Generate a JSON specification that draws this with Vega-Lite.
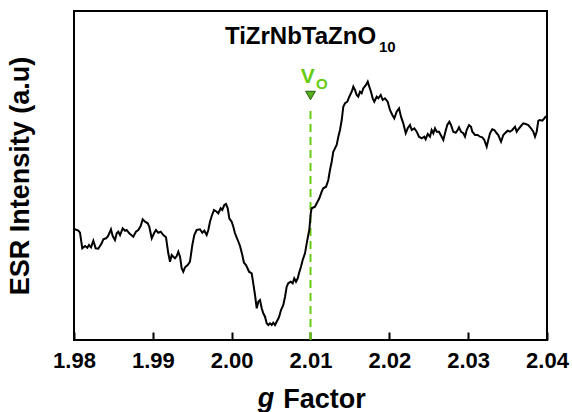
{
  "$schema": "https://vega.github.io/schema/vega-lite/v6.json",
  "autosize": {"type": "none"},
  "padding": {"left": 74, "top": 11, "right": 25, "bottom": 72},
  "width": 473,
  "height": 329,
  "background": "white",
  "config": {
    "font": "Liberation Sans",
    "view": {"stroke": "black", "strokeWidth": 2}
  },
  "datasets": {
    "esr": [
      {"g": 1.98, "I": 111.7},
      {"g": 1.98013, "I": 110.7},
      {"g": 1.98055, "I": 109.3},
      {"g": 1.98076, "I": 107.3},
      {"g": 1.98105, "I": 91.7},
      {"g": 1.9814, "I": 94},
      {"g": 1.98169, "I": 92.3},
      {"g": 1.9819, "I": 95},
      {"g": 1.98216, "I": 92.7},
      {"g": 1.98245, "I": 99.3},
      {"g": 1.98275, "I": 91.7},
      {"g": 1.98308, "I": 91.3},
      {"g": 1.98351, "I": 96.7},
      {"g": 1.98372, "I": 100.7},
      {"g": 1.98406, "I": 101.7},
      {"g": 1.98427, "I": 103.3},
      {"g": 1.98448, "I": 106.7},
      {"g": 1.98469, "I": 110.7},
      {"g": 1.98491, "I": 104},
      {"g": 1.9852, "I": 100},
      {"g": 1.98542, "I": 106.7},
      {"g": 1.98562, "I": 108.3},
      {"g": 1.98584, "I": 105},
      {"g": 1.98618, "I": 111.7},
      {"g": 1.98647, "I": 109.3},
      {"g": 1.98668, "I": 110},
      {"g": 1.98701, "I": 106.7},
      {"g": 1.98752, "I": 103.3},
      {"g": 1.98786, "I": 108.3},
      {"g": 1.98816, "I": 110},
      {"g": 1.98846, "I": 114},
      {"g": 1.98871, "I": 120.7},
      {"g": 1.98901, "I": 118.3},
      {"g": 1.98935, "I": 116.7},
      {"g": 1.98955, "I": 113.3},
      {"g": 1.98986, "I": 101.7},
      {"g": 1.99015, "I": 106.7},
      {"g": 1.9904, "I": 110},
      {"g": 1.99069, "I": 107.3},
      {"g": 1.991, "I": 108.3},
      {"g": 1.99133, "I": 105},
      {"g": 1.99167, "I": 102.7},
      {"g": 1.99196, "I": 86.7},
      {"g": 1.99218, "I": 78.3},
      {"g": 1.99239, "I": 85},
      {"g": 1.9926, "I": 83.3},
      {"g": 1.99281, "I": 81.7},
      {"g": 1.99303, "I": 84},
      {"g": 1.99323, "I": 88.3},
      {"g": 1.99345, "I": 83.3},
      {"g": 1.99366, "I": 71.7},
      {"g": 1.99386, "I": 68.3},
      {"g": 1.99408, "I": 72.7},
      {"g": 1.99442, "I": 75},
      {"g": 1.99471, "I": 78.3},
      {"g": 1.99501, "I": 95},
      {"g": 1.99526, "I": 105},
      {"g": 1.99556, "I": 110},
      {"g": 1.99598, "I": 110.7},
      {"g": 1.99627, "I": 107.3},
      {"g": 1.99653, "I": 109.3},
      {"g": 1.99683, "I": 105},
      {"g": 1.99704, "I": 110},
      {"g": 1.99725, "I": 118.3},
      {"g": 1.99747, "I": 124},
      {"g": 1.99776, "I": 130},
      {"g": 1.9981, "I": 128.3},
      {"g": 1.9983, "I": 126.7},
      {"g": 1.99861, "I": 131.7},
      {"g": 1.99881, "I": 130},
      {"g": 1.99907, "I": 135},
      {"g": 1.99928, "I": 136},
      {"g": 1.9995, "I": 131.7},
      {"g": 1.9997, "I": 121.7},
      {"g": 2.0, "I": 118.3},
      {"g": 2.00021, "I": 113.3},
      {"g": 2.00042, "I": 106.7},
      {"g": 2.00077, "I": 100},
      {"g": 2.00106, "I": 94},
      {"g": 2.00135, "I": 85},
      {"g": 2.00156, "I": 77.3},
      {"g": 2.00182, "I": 75},
      {"g": 2.00211, "I": 70},
      {"g": 2.0022, "I": 68.3},
      {"g": 2.00254, "I": 66.7},
      {"g": 2.00274, "I": 56.7},
      {"g": 2.00296, "I": 45},
      {"g": 2.00318, "I": 31.7},
      {"g": 2.00338, "I": 38.3},
      {"g": 2.00359, "I": 40},
      {"g": 2.00381, "I": 31.7},
      {"g": 2.00401, "I": 26.7},
      {"g": 2.00423, "I": 23.3},
      {"g": 2.00444, "I": 16.7},
      {"g": 2.00465, "I": 15},
      {"g": 2.00486, "I": 16.7},
      {"g": 2.00508, "I": 15},
      {"g": 2.00528, "I": 17.3},
      {"g": 2.0055, "I": 15},
      {"g": 2.00571, "I": 18.3},
      {"g": 2.006, "I": 22.7},
      {"g": 2.00626, "I": 30},
      {"g": 2.00655, "I": 35},
      {"g": 2.00677, "I": 43.3},
      {"g": 2.00698, "I": 53.3},
      {"g": 2.00718, "I": 56.7},
      {"g": 2.00749, "I": 58.3},
      {"g": 2.00774, "I": 56.7},
      {"g": 2.00794, "I": 61.7},
      {"g": 2.00816, "I": 58.3},
      {"g": 2.00838, "I": 61.7},
      {"g": 2.00854, "I": 66.7},
      {"g": 2.00879, "I": 73.3},
      {"g": 2.00901, "I": 80},
      {"g": 2.0093, "I": 86.7},
      {"g": 2.00952, "I": 96.7},
      {"g": 2.00972, "I": 105},
      {"g": 2.00985, "I": 110},
      {"g": 2.01003, "I": 126.7},
      {"g": 2.01015, "I": 131.7},
      {"g": 2.01057, "I": 133.3},
      {"g": 2.01079, "I": 136.7},
      {"g": 2.01112, "I": 141.7},
      {"g": 2.01142, "I": 148.3},
      {"g": 2.01162, "I": 151.7},
      {"g": 2.01197, "I": 153.3},
      {"g": 2.01226, "I": 160},
      {"g": 2.01247, "I": 170},
      {"g": 2.01269, "I": 178.3},
      {"g": 2.01289, "I": 188.3},
      {"g": 2.01311, "I": 191.7},
      {"g": 2.01332, "I": 195},
      {"g": 2.01353, "I": 203.3},
      {"g": 2.01374, "I": 210},
      {"g": 2.01396, "I": 220},
      {"g": 2.01416, "I": 233.3},
      {"g": 2.01438, "I": 236.7},
      {"g": 2.01467, "I": 238.3},
      {"g": 2.01492, "I": 243.3},
      {"g": 2.01523, "I": 248.3},
      {"g": 2.01543, "I": 253.3},
      {"g": 2.01564, "I": 250},
      {"g": 2.01586, "I": 245},
      {"g": 2.01606, "I": 243.3},
      {"g": 2.01628, "I": 248.3},
      {"g": 2.01649, "I": 246.7},
      {"g": 2.0167, "I": 251.7},
      {"g": 2.01704, "I": 255},
      {"g": 2.01726, "I": 258.3},
      {"g": 2.01746, "I": 253.3},
      {"g": 2.01767, "I": 248.3},
      {"g": 2.01789, "I": 241.7},
      {"g": 2.01809, "I": 238.3},
      {"g": 2.0184, "I": 243.3},
      {"g": 2.0186, "I": 241.7},
      {"g": 2.01891, "I": 245},
      {"g": 2.01916, "I": 240},
      {"g": 2.01945, "I": 241.7},
      {"g": 2.01979, "I": 238.3},
      {"g": 2.02008, "I": 230},
      {"g": 2.02038, "I": 225},
      {"g": 2.02063, "I": 221.7},
      {"g": 2.02093, "I": 228.3},
      {"g": 2.02123, "I": 231.7},
      {"g": 2.02148, "I": 223.3},
      {"g": 2.02177, "I": 216.7},
      {"g": 2.02208, "I": 206.7},
      {"g": 2.02233, "I": 211.7},
      {"g": 2.02262, "I": 215},
      {"g": 2.02284, "I": 210},
      {"g": 2.02317, "I": 211.7},
      {"g": 2.02347, "I": 208.3},
      {"g": 2.02376, "I": 203.3},
      {"g": 2.02411, "I": 201.7},
      {"g": 2.02444, "I": 203.3},
      {"g": 2.02461, "I": 200.7},
      {"g": 2.02487, "I": 206},
      {"g": 2.02516, "I": 203.3},
      {"g": 2.02537, "I": 210},
      {"g": 2.02558, "I": 206.7},
      {"g": 2.02579, "I": 211.7},
      {"g": 2.02601, "I": 208.3},
      {"g": 2.0263, "I": 208.3},
      {"g": 2.02664, "I": 203.3},
      {"g": 2.02685, "I": 200},
      {"g": 2.02706, "I": 206.7},
      {"g": 2.02735, "I": 215},
      {"g": 2.02761, "I": 218.3},
      {"g": 2.02782, "I": 215},
      {"g": 2.02811, "I": 208.3},
      {"g": 2.02842, "I": 207.3},
      {"g": 2.02867, "I": 210},
      {"g": 2.02884, "I": 212.7},
      {"g": 2.02909, "I": 208.3},
      {"g": 2.02938, "I": 206.7},
      {"g": 2.0296, "I": 203.3},
      {"g": 2.02981, "I": 210},
      {"g": 2.03011, "I": 215},
      {"g": 2.03036, "I": 213.3},
      {"g": 2.03053, "I": 208.3},
      {"g": 2.03087, "I": 205},
      {"g": 2.03121, "I": 205},
      {"g": 2.0315, "I": 203.3},
      {"g": 2.03179, "I": 202.7},
      {"g": 2.03205, "I": 200},
      {"g": 2.03235, "I": 193.3},
      {"g": 2.03255, "I": 200},
      {"g": 2.03277, "I": 206.7},
      {"g": 2.03306, "I": 210.7},
      {"g": 2.03332, "I": 210},
      {"g": 2.03362, "I": 206.7},
      {"g": 2.03382, "I": 205},
      {"g": 2.03417, "I": 198.3},
      {"g": 2.03446, "I": 205},
      {"g": 2.03467, "I": 206.7},
      {"g": 2.03501, "I": 209.3},
      {"g": 2.03531, "I": 208.3},
      {"g": 2.0356, "I": 210},
      {"g": 2.03594, "I": 213.3},
      {"g": 2.03616, "I": 208.3},
      {"g": 2.03636, "I": 210.7},
      {"g": 2.0367, "I": 214},
      {"g": 2.03699, "I": 216.7},
      {"g": 2.0373, "I": 216},
      {"g": 2.03763, "I": 215},
      {"g": 2.03797, "I": 211.7},
      {"g": 2.03826, "I": 208.3},
      {"g": 2.03848, "I": 203.3},
      {"g": 2.03869, "I": 208.3},
      {"g": 2.0389, "I": 219.3},
      {"g": 2.03911, "I": 220},
      {"g": 2.03941, "I": 219.3},
      {"g": 2.03966, "I": 221.7},
      {"g": 2.03987, "I": 224}
    ]
  },
  "encoding": {
    "x": {
      "field": "g",
      "type": "quantitative",
      "scale": {"domain": [1.98, 2.04], "nice": false, "zero": false},
      "axis": {
        "values": [1.98, 1.99, 2.0, 2.01, 2.02, 2.03, 2.04],
        "format": ".2f",
        "grid": false,
        "domain": false,
        "offset": -8,
        "ticks": true,
        "tickSize": 8,
        "tickWidth": 2,
        "tickColor": "black",
        "labelFont": "Liberation Sans",
        "labelFontSize": 22,
        "labelFontWeight": "bold",
        "labelColor": "black",
        "labelPadding": 10,
        "labelFlush": false,
        "labelOverlap": false,
        "title": "Factor",
        "titleFont": "Liberation Sans",
        "titleFontSize": 27,
        "titleFontWeight": "bold",
        "titleColor": "black",
        "titleX": 250,
        "titleY": 75,
        "titleAlign": "center",
        "titleBaseline": "alphabetic"
      }
    },
    "y": {
      "field": "I",
      "type": "quantitative",
      "scale": {"domain": [0, 329], "nice": false, "zero": false},
      "axis": {
        "ticks": false,
        "labels": false,
        "domain": false,
        "grid": false,
        "title": "ESR Intensity (a.u)",
        "titleFont": "Liberation Sans",
        "titleFontSize": 27,
        "titleFontWeight": "bold",
        "titleColor": "black",
        "titleX": -54,
        "titleY": 164.5,
        "titleAngle": 270,
        "titleAlign": "center",
        "titleBaseline": "middle"
      }
    }
  },
  "layer": [
    {
      "data": {"values": [{"g": 2.01, "I": 0, "I2": 230}]},
      "mark": {"type": "rule", "color": "#66cc11", "strokeWidth": 2, "strokeDash": [8, 5]},
      "encoding": {"y2": {"field": "I2"}}
    },
    {
      "data": {"name": "esr"},
      "mark": {"type": "line", "color": "black", "strokeWidth": 2, "interpolate": "linear"}
    },
    {
      "data": {"values": [{"g": 2.01, "I": 244.5}]},
      "mark": {"type": "point", "shape": "triangle-down", "size": 95, "filled": true, "fill": "#55b020", "stroke": "#2a5a10", "strokeWidth": 1, "opacity": 1}
    },
    {
      "data": {"values": [{"g": 2.00876, "I": 257, "label": "V"}]},
      "mark": {"type": "text", "align": "left", "baseline": "alphabetic", "font": "Liberation Sans", "fontSize": 21, "fontWeight": "bold", "color": "#66cc11"},
      "encoding": {"text": {"field": "label"}}
    },
    {
      "data": {"values": [{"g": 2.0107, "I": 251, "label": "O"}]},
      "mark": {"type": "text", "align": "left", "baseline": "alphabetic", "font": "Liberation Sans", "fontSize": 15, "fontWeight": "bold", "color": "#66cc11"},
      "encoding": {"text": {"field": "label"}}
    },
    {
      "data": {"values": [{"g": 1.99915, "I": 296, "label": "TiZrNbTaZnO"}]},
      "mark": {"type": "text", "align": "left", "baseline": "alphabetic", "font": "Liberation Sans", "fontSize": 24, "fontWeight": "bold", "color": "black"},
      "encoding": {"text": {"field": "label"}}
    },
    {
      "data": {"values": [{"g": 2.01869, "I": 288, "label": "10"}]},
      "mark": {"type": "text", "align": "left", "baseline": "alphabetic", "font": "Liberation Sans", "fontSize": 15, "fontWeight": "bold", "color": "black"},
      "encoding": {"text": {"field": "label"}}
    },
    {
      "data": {"values": [{"g": 2.00436, "I": -67, "label": "g"}]},
      "mark": {"type": "text", "align": "center", "baseline": "alphabetic", "font": "Liberation Sans", "fontSize": 27, "fontWeight": "bold", "fontStyle": "italic", "color": "black", "clip": false},
      "encoding": {"text": {"field": "label"}}
    }
  ]
}
